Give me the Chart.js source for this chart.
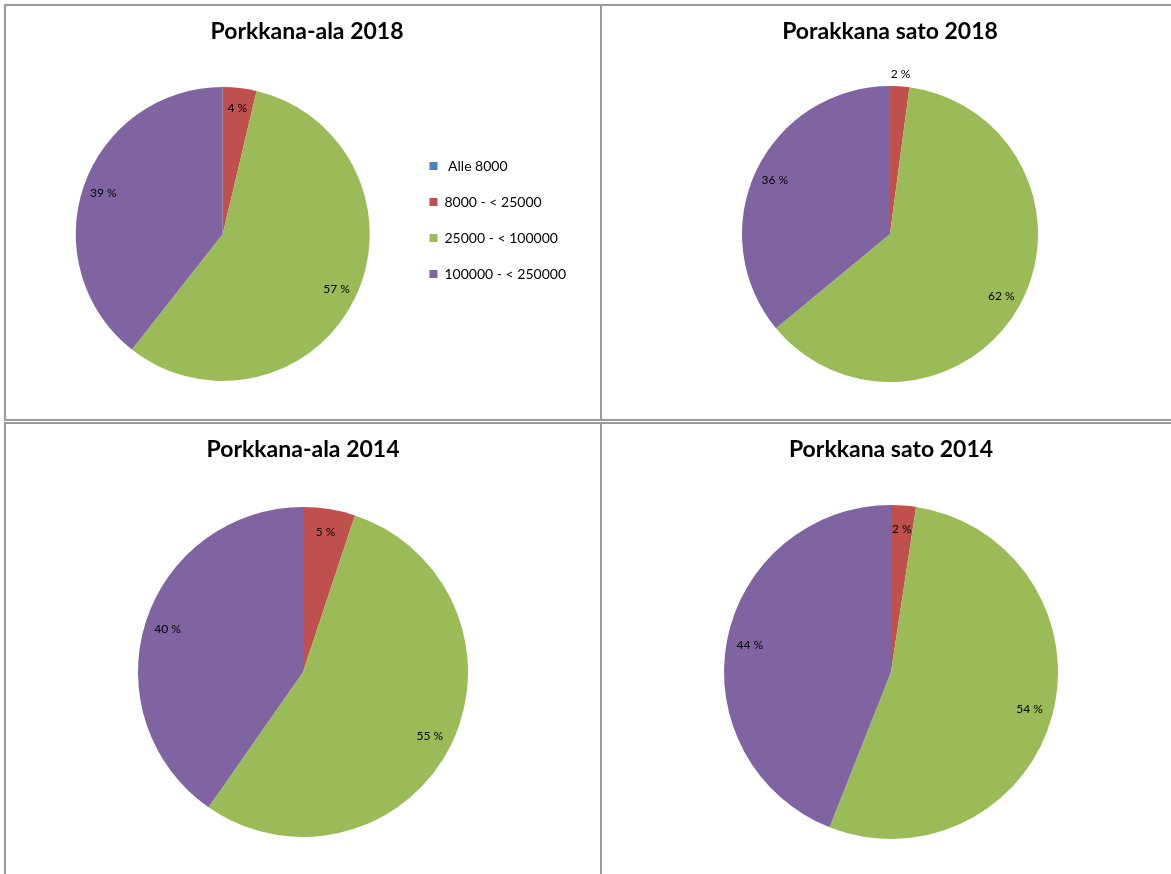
<!DOCTYPE html>
<html>
<head>
<meta charset="utf-8">
<script src="https://cdn.jsdelivr.net/npm/chart.js@4.4.0/dist/chart.umd.min.js"></script>
<style>
  body { margin: 0; background: #fff; width: 1171px; height: 874px; overflow: hidden; position: relative; }
  .panel { position: absolute; border: 2px solid #9a9a9a; background: #fff; overflow: hidden; box-sizing: border-box; }
  .panel canvas { position: absolute; left: 0; top: 0; }
</style>
</head>
<body>
<div class="panel" style="left:4px;top:4px;width:598px;height:417px"><canvas id="c1" width="594" height="413" style="width:594px;height:413px"></canvas></div>
<div class="panel" style="left:600px;top:4px;width:580px;height:417px"><canvas id="c2" width="576" height="413" style="width:576px;height:413px"></canvas></div>
<div class="panel" style="left:4px;top:422px;width:598px;height:460px"><canvas id="c3" width="594" height="452" style="width:594px;height:452px"></canvas></div>
<div class="panel" style="left:600px;top:422px;width:580px;height:460px"><canvas id="c4" width="576" height="452" style="width:576px;height:452px"></canvas></div>
<script>
// size classes (the first label has a leading space in the original)
const categories = [' Alle 8000', '8000 - < 25000', '25000 - < 100000', '100000 - < 250000'];
const colors = ['#4F81BD', '#C0504D', '#9BBB59', '#8064A2'];

// shares in %
const ala2018 = [0, 3.7, 56.9, 39.4];
const sato2018 = [0, 2.1, 61.9, 36.0];
const ala2014 = [0, 5.1, 54.6, 40.3];
const sato2014 = [0, 2.4, 53.6, 44.0];

// draws "57 %" style labels near the rim of each slice
const pctLabels = {
    id: 'pctLabels',
    afterDatasetsDraw(chart, args, opts) {
        const ctx = chart.ctx;
        const values = chart.data.datasets[0].data;
        const total = values.reduce((a, b) => a + b, 0);
        chart.getDatasetMeta(0).data.forEach((arc, i) => {
            if (!values[i]) return;
            const mid = (arc.startAngle + arc.endAngle) / 2;
            const f = (opts.outside || []).includes(i) ? 1.08 : 0.86;
            const x = arc.x + Math.cos(mid) * arc.outerRadius * f;
            const y = arc.y + Math.sin(mid) * arc.outerRadius * f;
            ctx.save();
            ctx.font = '12px Lato';
            ctx.fillStyle = '#000';
            ctx.textAlign = 'center';
            ctx.textBaseline = 'middle';
            ctx.fillText(Math.round(values[i] / total * 100) + ' %', x, y);
            ctx.restore();
        });
    }
};

function makePie(id, title, values, cfg) {
    return new Chart(document.getElementById(id), {
        type: 'pie',
        data: {
            labels: categories,
            datasets: [{
                data: values,
                backgroundColor: colors,
                borderWidth: 0,
                hoverOffset: 0,
                radius: cfg.radius
            }]
        },
        options: {
            responsive: false,
            animation: false,
            layout: { padding: cfg.padding },
            plugins: {
                title: {
                    display: true,
                    text: title,
                    color: '#000',
                    font: { family: 'Lato', size: 23, weight: 'bold' },
                    padding: { top: 12, bottom: cfg.titleGap }
                },
                legend: {
                    display: !!cfg.legend,
                    position: 'right',
                    align: 'start',
                    fullSize: false,
                    labels: {
                        boxWidth: 8,
                        boxHeight: 8,
                        padding: 22,
                        color: '#000',
                        font: { family: 'Lato', size: 14 }
                    }
                },
                tooltip: { enabled: false },
                pctLabels: { outside: cfg.outside || [] }
            }
        },
        plugins: [pctLabels]
    });
}

makePie('c1', 'Porkkana-ala 2018', ala2018, {
    radius: 147, titleGap: 91.4, legend: true,
    padding: { left: 32, right: 24, top: 0, bottom: 88 }
});
makePie('c2', 'Porakkana sato 2018', sato2018, {
    radius: 148, titleGap: 40.4, outside: [1],
    padding: { left: 0, right: 0, top: 0, bottom: 37 }
});
makePie('c3', 'Porkkana-ala 2014', ala2014, {
    radius: 165, titleGap: 43.4,
    padding: { left: 0, right: 0, top: 0, bottom: 39 }
});
makePie('c4', 'Porkkana sato 2014', sato2014, {
    radius: 167, titleGap: 41.4,
    padding: { left: 2, right: 0, top: 0, bottom: 37 }
});
</script>
</body>
</html>
